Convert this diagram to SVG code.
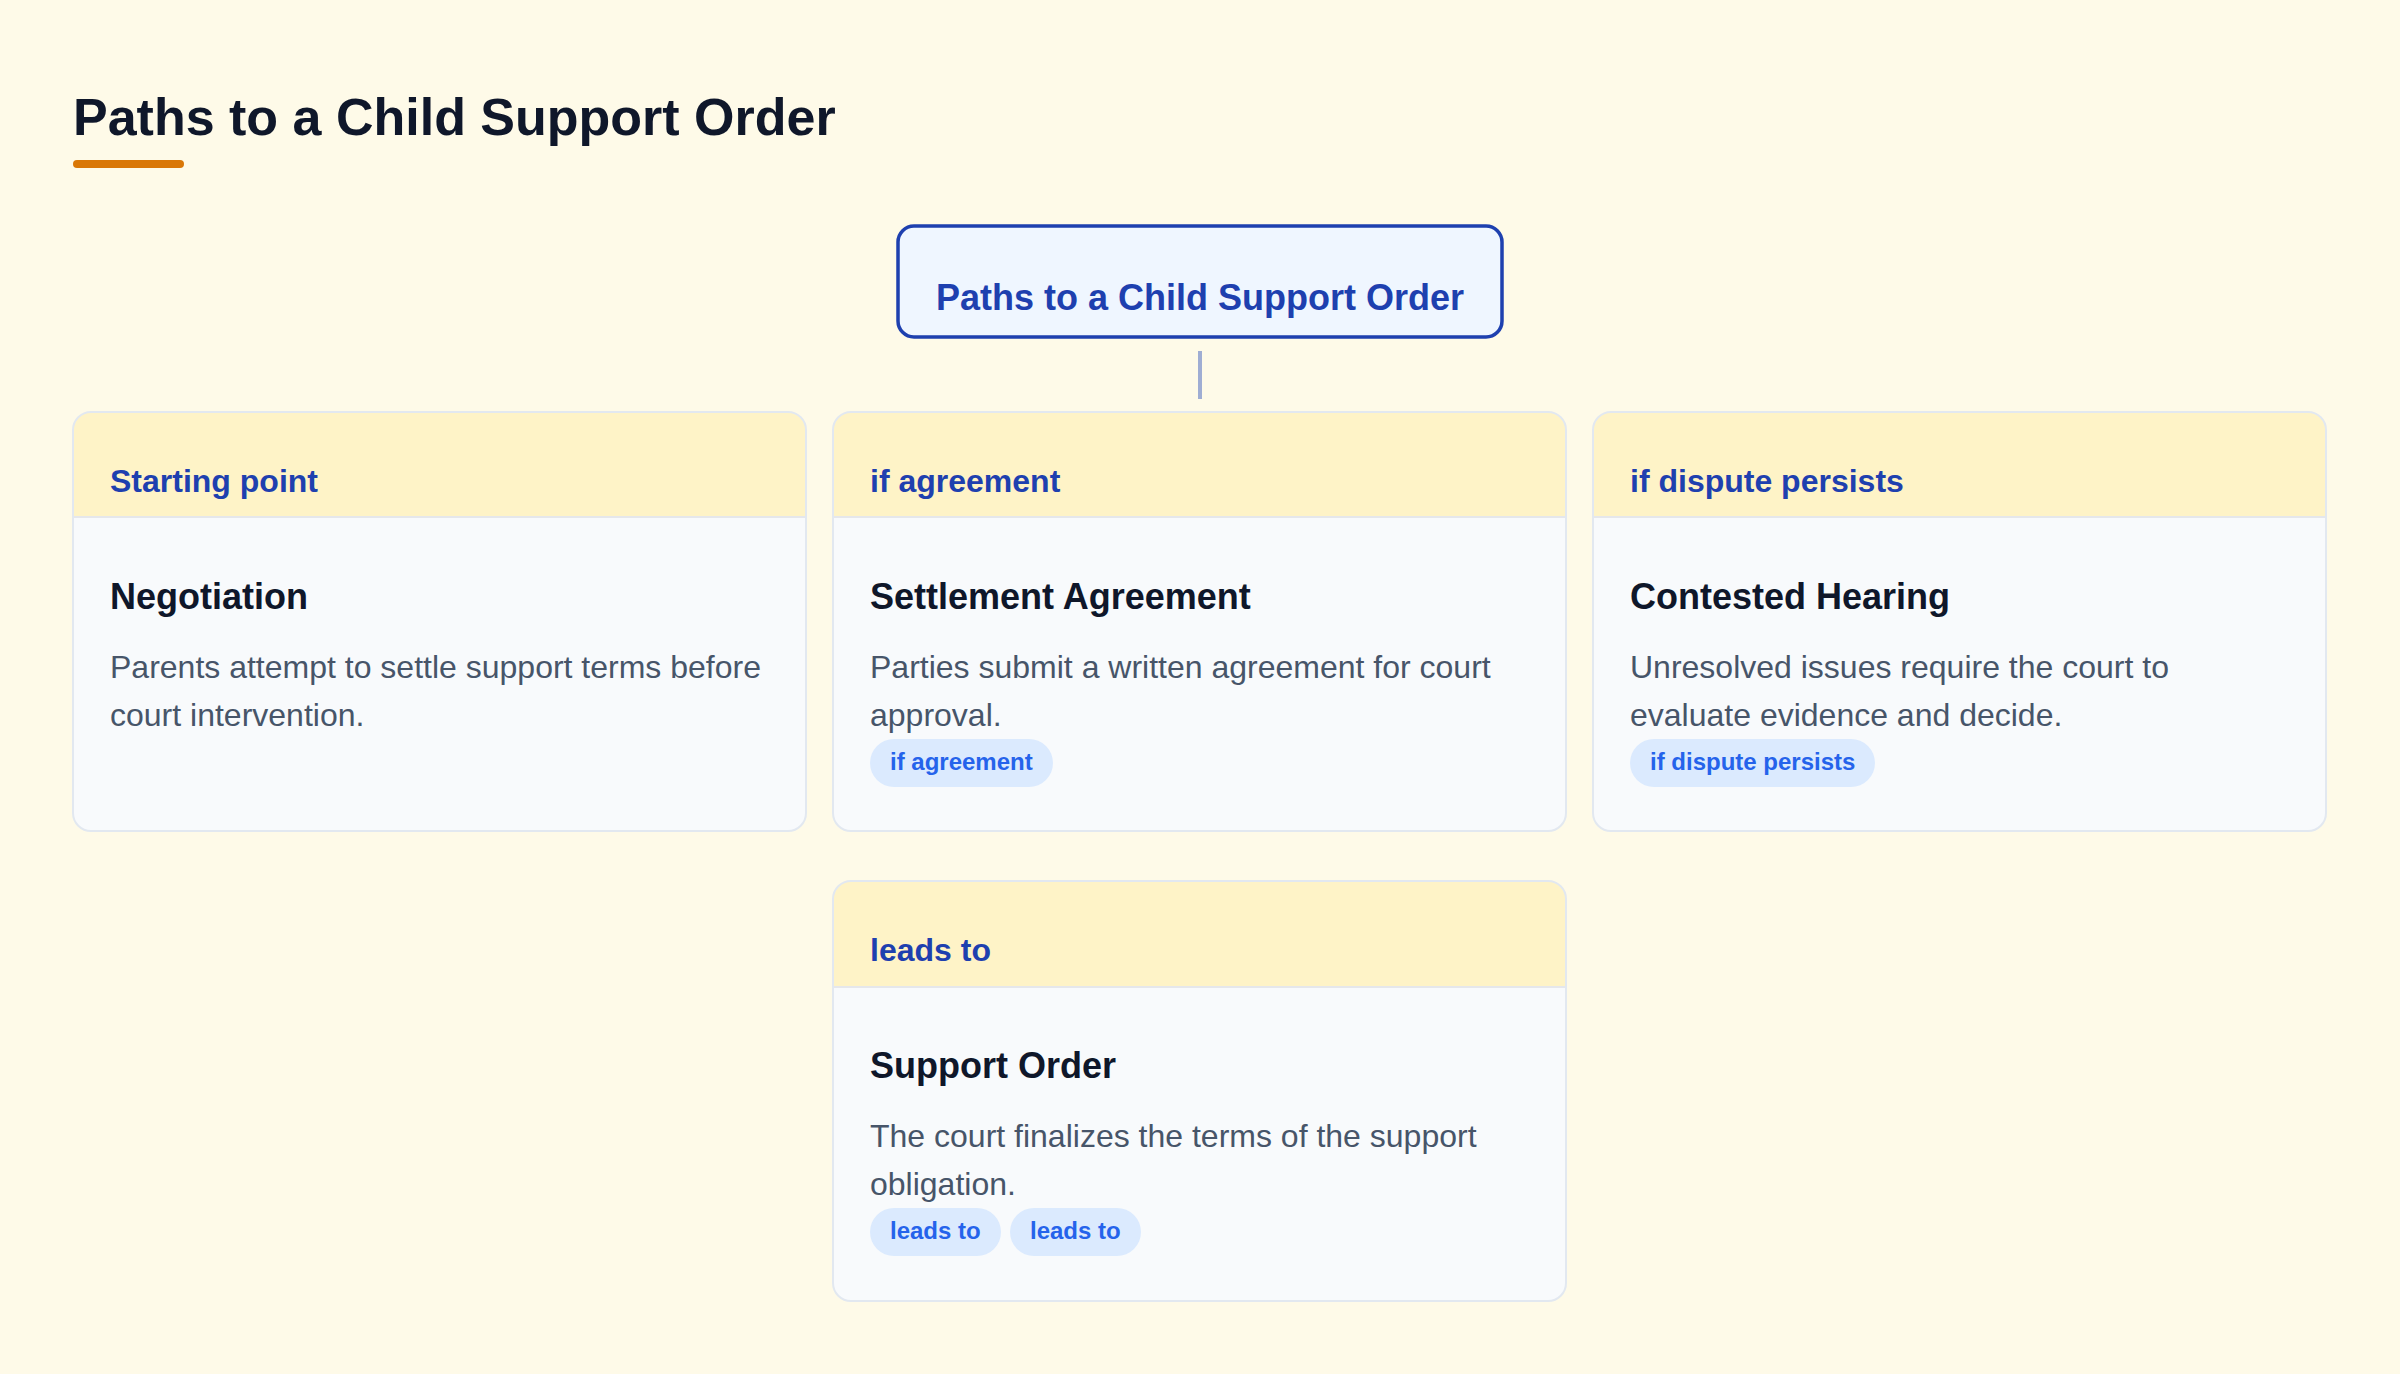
<svg xmlns="http://www.w3.org/2000/svg" width="2400" height="1374" viewBox="0 0 2400 1374">
<style>
text{font-family:"Liberation Sans",Arial,Helvetica,sans-serif}
.title{font-size:52px;font-weight:700;fill:#0F172A}
.root-box{fill:#EFF6FF;stroke:#1E40AF;stroke-width:3.5}
.root-text{font-size:36px;font-weight:700;fill:#1E40AF}
.card{fill:#F8FAFC}
.card-border{fill:none;stroke:#E2E8F0;stroke-width:2}
.head{fill:#FEF3C7}
.sep{stroke:#E5E7EB;stroke-width:2}
.label{font-size:32px;font-weight:700;fill:#1E40AF}
.name{font-size:36px;font-weight:700;fill:#0F172A}
.desc{font-size:32px;fill:#475569}
.pill{fill:#DBEAFE}
.pill-text{font-size:24px;font-weight:700;fill:#2563EB}
.conn{stroke:#9FADD3;stroke-width:4;fill:none}
</style>
<rect x="0" y="0" width="2400" height="1374" fill="#FEFAE8"/>
<g id="header">
<text class="title" x="73" y="135">Paths to a Child Support Order</text>
<rect x="73" y="160" width="111" height="8" rx="4" fill="#D97706"/>
</g>
<g id="connectors">
<line class="conn" x1="1200" y1="351" x2="1200" y2="399"/>
</g>
<g id="root">
<rect class="root-box" x="898" y="226" width="604" height="111" rx="16"/>
<text class="root-text" x="1200" y="309.5" text-anchor="middle">Paths to a Child Support Order</text>
</g>
<g id="negotiation">
<rect class="card" x="73" y="412" width="733" height="419" rx="18"/>
<path class="head" d="M73,517 V430 A18,18 0 0 1 91,412 H788 A18,18 0 0 1 806,430 V517 Z"/>
<line class="sep" x1="74" y1="517" x2="805" y2="517"/>
<rect class="card-border" x="73" y="412" width="733" height="419" rx="18"/>
<text class="label" x="110" y="492">Starting point</text>
<text class="name" x="110" y="608.5">Negotiation</text>
<text class="desc" x="110" y="678">Parents attempt to settle support terms before</text>
<text class="desc" x="110" y="726">court intervention.</text>
</g>
<g id="settlement">
<rect class="card" x="833" y="412" width="733" height="419" rx="18"/>
<path class="head" d="M833,517 V430 A18,18 0 0 1 851,412 H1548 A18,18 0 0 1 1566,430 V517 Z"/>
<line class="sep" x1="834" y1="517" x2="1565" y2="517"/>
<rect class="card-border" x="833" y="412" width="733" height="419" rx="18"/>
<text class="label" x="870" y="492">if agreement</text>
<text class="name" x="870" y="608.5">Settlement Agreement</text>
<text class="desc" x="870" y="678">Parties submit a written agreement for court</text>
<text class="desc" x="870" y="726">approval.</text>
<rect class="pill" x="870" y="739" width="183" height="48" rx="24"/>
<text class="pill-text" x="890" y="769.5">if agreement</text>
</g>
<g id="contested">
<rect class="card" x="1593" y="412" width="733" height="419" rx="18"/>
<path class="head" d="M1593,517 V430 A18,18 0 0 1 1611,412 H2308 A18,18 0 0 1 2326,430 V517 Z"/>
<line class="sep" x1="1594" y1="517" x2="2325" y2="517"/>
<rect class="card-border" x="1593" y="412" width="733" height="419" rx="18"/>
<text class="label" x="1630" y="492">if dispute persists</text>
<text class="name" x="1630" y="608.5">Contested Hearing</text>
<text class="desc" x="1630" y="678">Unresolved issues require the court to</text>
<text class="desc" x="1630" y="726">evaluate evidence and decide.</text>
<rect class="pill" x="1630" y="739" width="245" height="48" rx="24"/>
<text class="pill-text" x="1650" y="769.5">if dispute persists</text>
</g>
<g id="support-order">
<rect class="card" x="833" y="881" width="733" height="420" rx="18"/>
<path class="head" d="M833,987 V899 A18,18 0 0 1 851,881 H1548 A18,18 0 0 1 1566,899 V987 Z"/>
<line class="sep" x1="834" y1="987" x2="1565" y2="987"/>
<rect class="card-border" x="833" y="881" width="733" height="420" rx="18"/>
<text class="label" x="870" y="961">leads to</text>
<text class="name" x="870" y="1078">Support Order</text>
<text class="desc" x="870" y="1147">The court finalizes the terms of the support</text>
<text class="desc" x="870" y="1195">obligation.</text>
<rect class="pill" x="870" y="1208" width="131" height="48" rx="24"/>
<text class="pill-text" x="890" y="1238.5">leads to</text>
<rect class="pill" x="1010" y="1208" width="131" height="48" rx="24"/>
<text class="pill-text" x="1030" y="1238.5">leads to</text>
</g>
</svg>
